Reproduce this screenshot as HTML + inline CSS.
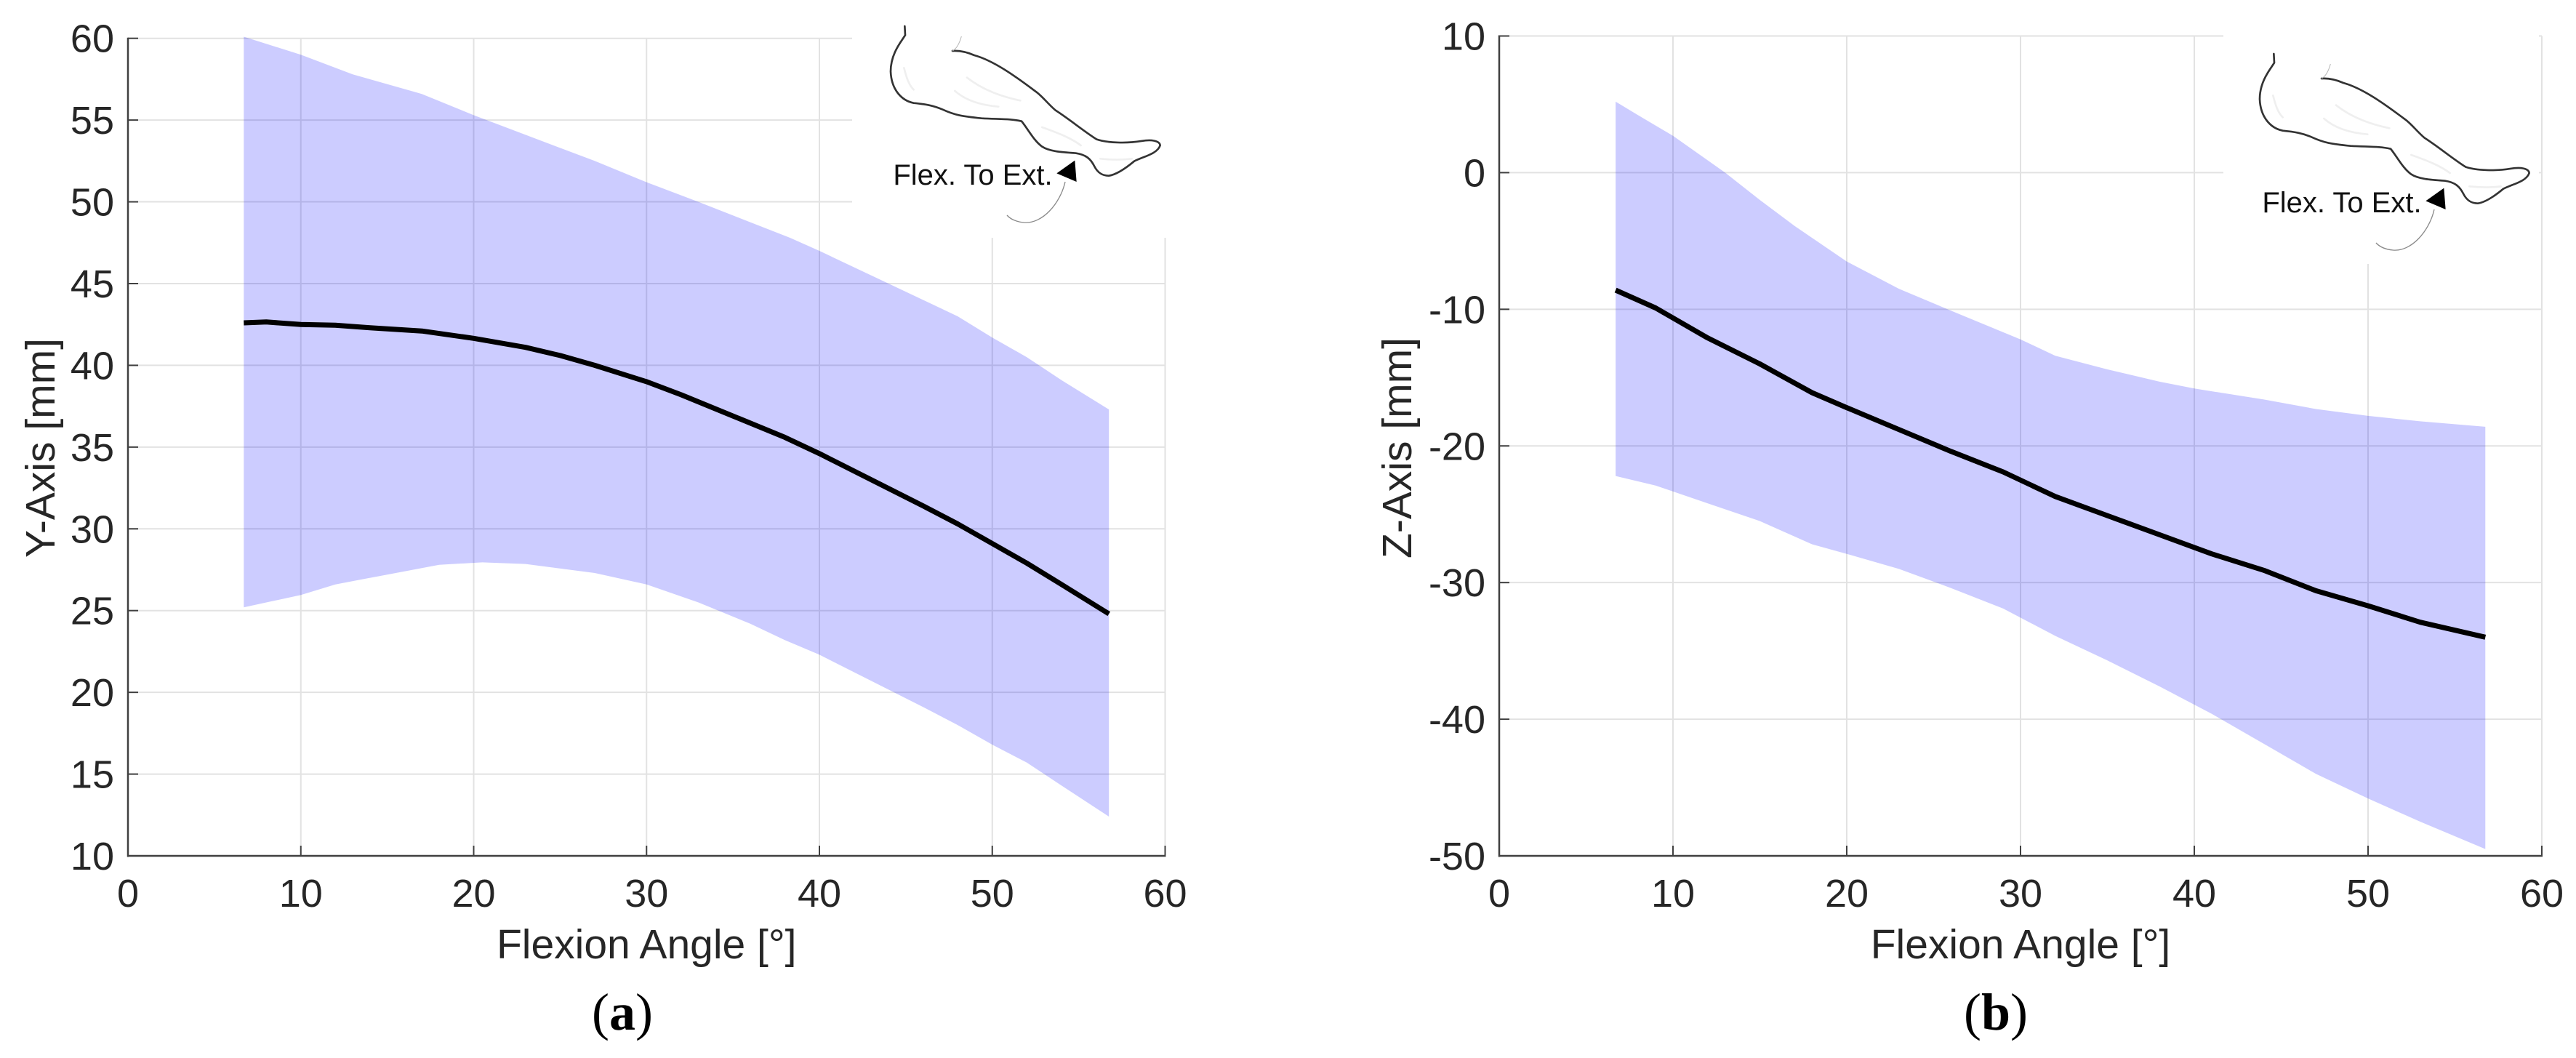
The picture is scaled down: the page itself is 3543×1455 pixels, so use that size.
<!DOCTYPE html>
<html lang="en">
<head>
<meta charset="utf-8">
<title>Flexion angle versus Y-axis and Z-axis displacement</title>
<style>
html,body{margin:0;padding:0;background:#fff;}
svg{display:block;}
text{font-family:"Liberation Sans",sans-serif;fill:#262626;}
.tick{font-size:54px;}
.axis-label{font-size:57px;}
.panel-label{font-family:"Liberation Serif",serif;font-size:72px;fill:#000;}
.inset-text{font-size:40px;fill:#111;}
</style>
</head>
<body>
<svg id="figure" xmlns="http://www.w3.org/2000/svg" width="3543" height="1455" viewBox="0 0 3543 1455">
<rect x="0" y="0" width="3543" height="1455" fill="#ffffff"/>
<g id="chart-a"></g>
<g id="chart-b"></g>

<g transform="translate(1150,0) scale(0.33333)">
<g fill="none" stroke="#efefef" stroke-width="8" stroke-linecap="round">
<path d="M490 375C540 420 610 435 670 440M540 320C610 375 690 400 760 415M280 280C290 320 300 350 320 370M850 525C920 550 970 570 1010 600M1090 655C1140 660 1180 660 1220 655"/>
</g>
<path fill="none" stroke="#333333" stroke-width="8" stroke-linecap="round" d="M283 108L285 145C270 170 225 220 225 295C228 370 270 415 320 425C370 430 400 435 440 452C490 475 520 480 600 488C680 492 720 490 765 500C790 530 815 580 850 605C880 625 930 628 990 632C1030 638 1050 655 1065 685C1080 715 1100 725 1125 725C1160 720 1200 690 1230 665C1270 645 1325 635 1337 600C1335 580 1300 575 1260 582C1200 592 1120 590 1075 575C1020 540 960 490 905 455C870 425 850 395 820 375C740 315 650 250 570 228C540 215 510 208 480 210"/>
<path fill="none" stroke="#b5b5b5" stroke-width="3" d="M480 210C500 200 510 175 517 150"/>
<text class="inset-text" x="235" y="762" style="font-size:120px">Flex. To Ext.</text>
<path fill="none" stroke="#8a8a8a" stroke-width="4" d="M945 750C925 840 850 925 775 918C745 915 720 905 705 888"/>
<polygon points="910,715 985,662 992,750" fill="#000"/>
</g>

<g transform="translate(3033,38) scale(0.33333)">
<g fill="none" stroke="#efefef" stroke-width="8" stroke-linecap="round">
<path d="M490 375C540 420 610 435 670 440M540 320C610 375 690 400 760 415M280 280C290 320 300 350 320 370M850 525C920 550 970 570 1010 600M1090 655C1140 660 1180 660 1220 655"/>
</g>
<path fill="none" stroke="#333333" stroke-width="8" stroke-linecap="round" d="M283 108L285 145C270 170 225 220 225 295C228 370 270 415 320 425C370 430 400 435 440 452C490 475 520 480 600 488C680 492 720 490 765 500C790 530 815 580 850 605C880 625 930 628 990 632C1030 638 1050 655 1065 685C1080 715 1100 725 1125 725C1160 720 1200 690 1230 665C1270 645 1325 635 1337 600C1335 580 1300 575 1260 582C1200 592 1120 590 1075 575C1020 540 960 490 905 455C870 425 850 395 820 375C740 315 650 250 570 228C540 215 510 208 480 210"/>
<path fill="none" stroke="#b5b5b5" stroke-width="3" d="M480 210C500 200 510 175 517 150"/>
<text class="inset-text" x="235" y="762" style="font-size:120px">Flex. To Ext.</text>
<path fill="none" stroke="#8a8a8a" stroke-width="4" d="M945 750C925 840 850 925 775 918C745 915 720 905 705 888"/>
<polygon points="910,715 985,662 992,750" fill="#000"/>
</g>

<text class="panel-label" x="856" y="1416" text-anchor="middle">(<tspan font-weight="bold">a</tspan>)</text>
<text class="panel-label" x="2745" y="1416" text-anchor="middle">(<tspan font-weight="bold">b</tspan>)</text>
</svg>

<script>
const xTickLabels = [0, 10, 20, 30, 40, 50, 60];
const yTickLabelsA = [10, 15, 20, 25, 30, 35, 40, 45, 50, 55, 60];
const yTickLabelsB = [-50, -40, -30, -20, -10, 0, 10];

const meanAngleA = [6.7, 8, 10, 12, 14, 17, 20, 23, 25, 27, 30, 32, 35, 38, 40, 43, 46, 48, 50, 52, 54, 56.75];
const meanValueA = [42.6, 42.65, 42.5, 42.45, 42.3, 42.1, 41.65, 41.1, 40.6, 40.0, 39.0, 38.2, 36.9, 35.6, 34.6, 33.0, 31.4, 30.3, 29.1, 27.9, 26.6, 24.8];
const upperAngleA = [6.7, 10, 13, 17, 20, 23, 27, 30, 33, 38.3, 40, 44, 48, 50, 52, 54, 56.75];
const upperValueA = [60.1, 59, 57.8, 56.6, 55.3, 54.1, 52.5, 51.2, 50, 47.8, 47, 45, 43, 41.7, 40.5, 39.1, 37.3];
const lowerAngleA = [6.7, 8, 10, 12, 15, 18, 20.5, 23, 27, 30, 33, 36, 38, 40, 43, 46, 48, 50, 52, 54, 56.75];
const lowerValueA = [25.2, 25.5, 25.95, 26.6, 27.2, 27.8, 27.95, 27.85, 27.3, 26.6, 25.5, 24.2, 23.2, 22.3, 20.7, 19.1, 18.0, 16.8, 15.7, 14.3, 12.4];

const meanAngleB = [6.7, 9, 12, 15, 18, 20, 23, 26, 29, 32, 35, 38, 41, 44, 47, 50, 53, 56.75];
const meanValueB = [-8.6, -9.9, -12.1, -14.0, -16.1, -17.2, -18.8, -20.4, -21.9, -23.7, -25.1, -26.5, -27.9, -29.1, -30.6, -31.7, -32.9, -34];
const upperAngleB = [6.7, 8, 10, 13, 15, 17, 20, 23, 26, 30, 32, 35, 38, 40, 44, 47, 50, 53, 56.75];
const upperValueB = [5.2, 4.2, 2.7, 0, -2, -3.9, -6.5, -8.5, -10.1, -12.2, -13.4, -14.4, -15.3, -15.8, -16.6, -17.3, -17.8, -18.2, -18.6];
const lowerAngleB = [6.7, 9, 12, 15, 18, 20, 23, 26, 29, 32, 35, 38, 41, 44, 47, 50, 53, 56.75];
const lowerValueB = [-22.2, -22.9, -24.2, -25.5, -27.2, -27.9, -29, -30.4, -31.9, -33.9, -35.7, -37.6, -39.6, -41.8, -44, -45.8, -47.5, -49.5];

const NS = 'http://www.w3.org/2000/svg';

function make(parent, tag, attrs) {
  const el = document.createElementNS(NS, tag);
  Object.keys(attrs).forEach(function (k) { el.setAttribute(k, attrs[k]); });
  parent.appendChild(el);
  return el;
}

function points(xs, ys, sx, sy) {
  return xs.map(function (v, i) { return sx(v).toFixed(1) + ',' + sy(ys[i]).toFixed(1); });
}

function drawPanel(cfg) {
  const root = document.getElementById(cfg.id);
  const xMin = xTickLabels[0];
  const xMax = xTickLabels[xTickLabels.length - 1];
  const yMin = cfg.yTicks[0];
  const yMax = cfg.yTicks[cfg.yTicks.length - 1];
  const sx = function (v) { return cfg.left + (v - xMin) / (xMax - xMin) * (cfg.right - cfg.left); };
  const sy = function (v) { return cfg.bottom - (v - yMin) / (yMax - yMin) * (cfg.bottom - cfg.top); };

  cfg.yTicks.forEach(function (v) {
    if (v === yMin) return;
    const grid = make(root, 'line', { x1: cfg.left, x2: cfg.right, y1: sy(v), y2: sy(v), stroke: '#e2e2e2', 'stroke-width': 2 });
    
    
  });
  xTickLabels.forEach(function (v) {
    if (v === xMin) return;
    const grid = make(root, 'line', { x1: sx(v), x2: sx(v), y1: cfg.top, y2: cfg.bottom, stroke: '#e2e2e2', 'stroke-width': 2 });
    
    
  });

  const mask = make(root, 'rect', { x: cfg.maskX, y: 0, width: cfg.maskW, height: cfg.maskBottom, fill: '#ffffff' });
  
  

  const bandPts = points(cfg.upperX, cfg.upperY, sx, sy).concat(points(cfg.lowerX, cfg.lowerY, sx, sy).reverse());
  const band = make(root, 'polygon', { points: bandPts.join(' '), fill: '#0000ff', 'fill-opacity': 0.2 });
  
  

  const mean = make(root, 'polyline', { points: points(cfg.meanX, cfg.meanY, sx, sy).join(' '), fill: 'none', stroke: '#000000', 'stroke-width': 7, 'stroke-linejoin': 'round' });
  
  

  cfg.yTicks.forEach(function (v) {
    const tick = make(root, 'line', { x1: cfg.left, x2: cfg.left + 14, y1: sy(v), y2: sy(v), stroke: '#404040', 'stroke-width': 2 });
    
    
    const label = make(root, 'text', { x: cfg.left - 19, y: sy(v) + 19, 'text-anchor': 'end', class: 'tick' });
    
    
    label.textContent = String(v);
  });
  xTickLabels.forEach(function (v) {
    const tick = make(root, 'line', { x1: sx(v), x2: sx(v), y1: cfg.bottom, y2: cfg.bottom - 14, stroke: '#404040', 'stroke-width': 2 });
    
    
    const label = make(root, 'text', { x: sx(v), y: cfg.bottom + 70, 'text-anchor': 'middle', class: 'tick' });
    
    
    label.textContent = String(v);
  });

  const yAxis = make(root, 'line', { x1: cfg.left, x2: cfg.left, y1: cfg.top - 1, y2: cfg.bottom + 1.5, stroke: '#404040', 'stroke-width': 2.5 });
  
  
  const xAxis = make(root, 'line', { x1: cfg.left - 1, x2: cfg.right + 1, y1: cfg.bottom, y2: cfg.bottom, stroke: '#404040', 'stroke-width': 2.5 });
  
  

  const xTitle = make(root, 'text', { x: (cfg.left + cfg.right) / 2, y: cfg.bottom + 141, 'text-anchor': 'middle', class: 'axis-label' });
  
  
  xTitle.textContent = 'Flexion Angle [°]';

  const yTitle = make(root, 'text', { x: cfg.yTitleX, y: 616, 'text-anchor': 'middle', class: 'axis-label', transform: 'rotate(-90 ' + cfg.yTitleX + ' 616)' });
  
  
  yTitle.textContent = cfg.yTitle;
}

drawPanel({
  id: 'chart-a', left: 176, right: 1602.5, top: 52.7, bottom: 1177,
  maskX: 1172, maskW: 440, maskBottom: 327,
  yTicks: yTickLabelsA, yTitle: 'Y-Axis [mm]', yTitleX: 75,
  meanX: meanAngleA, meanY: meanValueA,
  upperX: upperAngleA, upperY: upperValueA,
  lowerX: lowerAngleA, lowerY: lowerValueA
});
drawPanel({
  id: 'chart-b', left: 2062, right: 3496, top: 49.5, bottom: 1177,
  maskX: 3058, maskW: 434, maskBottom: 363,
  yTicks: yTickLabelsB, yTitle: 'Z-Axis [mm]', yTitleX: 1941,
  meanX: meanAngleB, meanY: meanValueB,
  upperX: upperAngleB, upperY: upperValueB,
  lowerX: lowerAngleB, lowerY: lowerValueB
});
</script>
</body>
</html>
